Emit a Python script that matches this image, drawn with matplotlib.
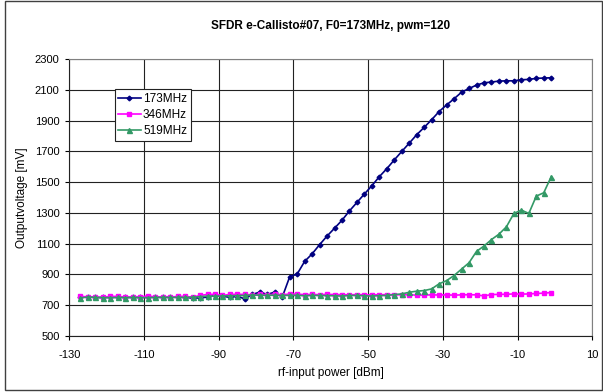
import matplotlib
matplotlib.use('Agg')
import matplotlib.pyplot as plt
from matplotlib.patches import Rectangle

plt.rcParams['font.family'] = ['Liberation Sans', 'DejaVu Sans']
plt.rcParams['axes.unicode_minus'] = False

# rf-input power sweep [dBm]
power_dbm = [-127, -125, -123, -121, -119, -117, -115, -113, -111, -109, -107, -105, -103, -101, -99, -97,
             -95, -93, -91, -89, -87, -85, -83, -81, -79, -77, -75, -73,
             -71, -69, -67, -65, -63, -61, -59, -57, -55, -53, -51, -49, -47, -45, -43, -41, -39, -37,
             -35, -33, -31, -29, -27, -25, -23, -21, -19, -17, -15, -13, -11, -9, -7, -5, -3, -1]

# output voltage [mV] at the fundamental and harmonics
out_173mhz = [750, 753, 749, 749, 750, 750, 750, 749, 750, 750, 751, 749, 751, 750, 750, 745,
              747, 751, 762, 756, 751, 756, 740, 769, 784, 769, 784, 751,
              884, 902, 984, 1033, 1093, 1149, 1200, 1252, 1313, 1368, 1423, 1477, 1536, 1588, 1645, 1700, 1754, 1809,
              1857, 1907, 1960, 2003, 2043, 2086, 2110, 2132, 2147, 2152, 2158, 2160, 2160, 2167, 2169, 2176, 2178, 2180]

out_346mhz = [756, 753, 751, 749, 756, 756, 751, 751, 751, 760, 751, 753, 751, 756, 756, 751,
              762, 769, 769, 762, 769, 769, 769, 764, 769, 767, 769, 767,
              771, 771, 767, 769, 767, 769, 768, 767, 766, 768, 766, 767, 766, 768, 767, 766, 767, 764,
              765, 766, 765, 766, 764, 766, 767, 766, 759, 768, 769, 770, 772, 771, 772, 775, 777, 781]

out_519mhz = [746, 752, 749, 748, 748, 749, 748, 749, 748, 748, 749, 750, 749, 750, 749, 751,
              754, 758, 757, 759, 760, 761, 762, 765, 764, 763, 764, 762,
              763, 763, 760, 762, 762, 761, 760, 758, 762, 762, 760, 758, 761, 762, 768, 772, 783, 790,
              794, 805, 838, 859, 892, 934, 975, 1049, 1084, 1126, 1161, 1209, 1296, 1318, 1296, 1409, 1431, 1536]

series = [
    ('173MHz', out_173mhz, '#000080', 'D', 2.4),
    ('346MHz', out_346mhz, '#FF00FF', 's', 3.0),
    ('519MHz', out_519mhz, '#339966', '^', 3.6),
]

fig = plt.figure(figsize=(6.03, 3.92), dpi=100)
ax = fig.add_axes([0.1149, 0.1436, 0.8674, 0.7051])

for label, values, color, marker, msize in series:
    ax.plot(power_dbm, values, color=color, marker=marker, markersize=msize,
            linewidth=1.2, label=label, clip_on=False, zorder=3)

ax.set_xlim(-130, 10)
ax.set_ylim(500, 2300)
ax.set_xticks(range(-130, 11, 20))
ax.set_yticks(range(500, 2301, 200))
ax.grid(True, color='#222222', linewidth=0.8)
ax.set_axisbelow(True)

for side in ['top', 'right']:
    ax.spines[side].set_color('#808080')
for side in ['left', 'bottom']:
    ax.spines[side].set_color('#222222')
for spine in ax.spines.values():
    spine.set_linewidth(0.8)

ax.tick_params(axis='y', direction='out', length=3, width=0.8, pad=4, labelsize=8)
ax.tick_params(axis='x', direction='out', length=3, width=0.8, pad=7, labelsize=8)

ax.set_title('SFDR e-Callisto#07, F0=173MHz, pwm=120', fontsize=8.5, fontweight='bold', pad=22)
ax.set_xlabel('rf-input power [dBm]', fontsize=8.5, labelpad=5)
ax.set_ylabel('Outputvoltage [mV]', fontsize=8.5, labelpad=5)

leg = ax.legend(loc='upper left', bbox_to_anchor=(0.0868, 0.8915), borderaxespad=0,
                fontsize=8.5, fancybox=False, framealpha=1, edgecolor='#222222',
                handlelength=1.9, handletextpad=0.2, labelspacing=0.35, borderpad=0.3)
leg.get_frame().set_linewidth(0.8)

# chart area frame
fig.patches.append(Rectangle((4.5 / 603, 2.3 / 392), 597 / 603, 389.2 / 392,
                             transform=fig.transFigure, fill=False,
                             edgecolor='#404040', linewidth=1.0))

fig.savefig('out.png', dpi=100)
